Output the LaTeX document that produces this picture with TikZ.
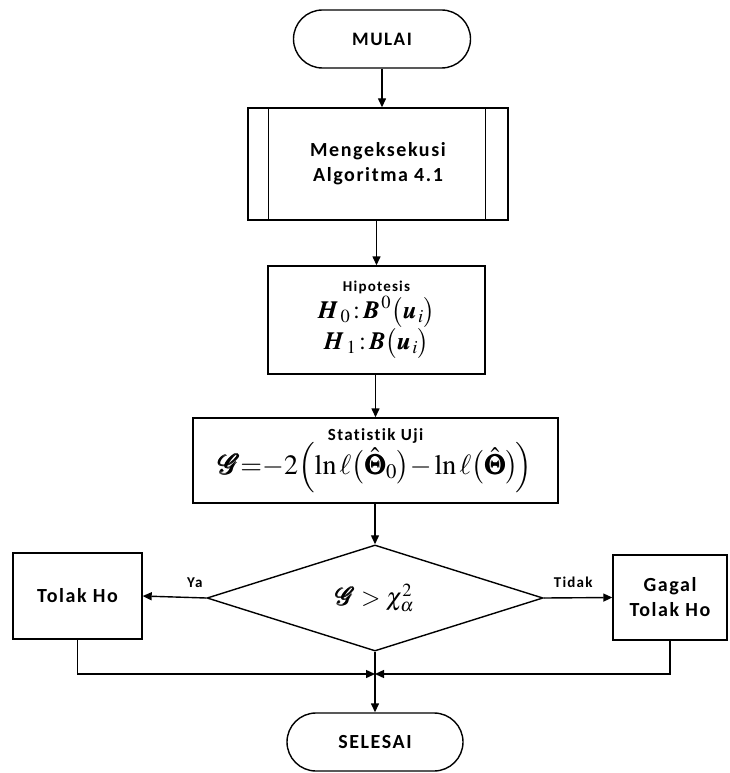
\documentclass[tikz,border=0pt]{standalone}
\usepackage{mathptmx}
\usepackage{amsmath}
\usepackage{bm}
\usepackage[no-math]{fontspec}
\setmainfont{Carlito}
\newfontfamily\lbl{Carlito}[LetterSpace=8, Ligatures=NoCommon]
\usetikzlibrary{arrows.meta, shapes.geometric, shapes.misc}

\newcommand{\statG}{\pmb{\mathcal{G}}}

\begin{document}
\begin{tikzpicture}[x=1pt, y=-1pt,
    font=\lbl\bfseries\fontsize{20}{25}\selectfont,
    garis/.style={line width=1.4pt},
    terminal/.style={rounded rectangle, draw, garis, minimum width=177pt, minimum height=58pt, inner sep=0pt},
    proses/.style={rectangle, draw, garis, inner sep=0pt, align=center},
    keputusan/.style={diamond, draw, garis, minimum width=336pt, minimum height=96pt, inner sep=0pt},
    panah/.style={garis, -{Triangle[length=9pt, width=8pt]}},
    ket/.style={font=\lbl\bfseries\fontsize{15}{17}\selectfont, above=6pt}]
    \useasboundingbox (0,0) rectangle (730,773);

    \node[terminal] (mulai) at (382,39) {\fontsize{19}{20}\selectfont MULAI};
    \node[proses, minimum width=260pt, minimum height=112pt] (algo) at (378,164) {Mengeksekusi\\Algoritma 4.1};
    \draw[garis] ([xshift=21pt]algo.north west) -- ([xshift=21pt]algo.south west);
    \draw[garis] ([xshift=-23pt]algo.north east) -- ([xshift=-23pt]algo.south east);
    \node[proses, minimum width=217pt, minimum height=108pt] (hipo) at (376.5,320)
        {{\fontsize{15}{18}\selectfont Hipotesis}\\[2pt]
         \fontsize{25}{30}\selectfont
         $\bm{H}_{\,0}\,{:}\,\bm{B}^{\,0}\big(\bm{u}_{\,i}\big)$\\[0pt]
         \fontsize{25}{30}\selectfont
         $\bm{H}_{\,1}\,{:}\,\bm{B}\big(\bm{u}_{\,i}\big)$};
    \node[proses, minimum width=365pt, minimum height=85pt] (uji) at (375.5,460.5)
        {{\fontsize{17}{20}\selectfont Statistik Uji}\\[-2pt]
         \fontsize{28}{32}\selectfont
         $\statG{=}{-}2\Big(\!\ln\ell\big(\hat{\bm{\Theta}}_{0}\big){-}\ln\ell\big(\hat{\bm{\Theta}}\big)\!\Big)$};
    \node[keputusan] (cek) at (375,598) {\fontsize{25}{28}\selectfont $\statG>\chi^{2}_{\alpha}$};
    \node[proses, minimum width=129pt, minimum height=86pt] (tolak) at (77.5,596) {Tolak Ho};
    \node[proses, minimum width=114pt, minimum height=85pt] (gagal) at (670,597.5) {Gagal\\Tolak Ho};
    \node[terminal, minimum width=176pt] (selesai) at (375,742) {SELESAI};
    \coordinate (gabung) at (375,674);

    \draw[panah] (mulai.south) -- (mulai.south |- algo.north);
    \draw[panah] (hipo.north |- algo.south) -- (hipo.north);
    \draw[panah] (uji.north |- hipo.south) -- (uji.north);
    \draw[panah] (cek.north |- uji.south) -- (cek.north);
    \draw[panah] (cek.west) -- node[ket, pos=0.18] {Ya} (tolak.east);
    \draw[panah] (cek.east) -- node[ket, pos=0.43] {Tidak} (gagal.west);
    \draw[panah] (tolak.south) |- (gabung);
    \draw[panah] (gagal.south) |- (gabung);
    \draw[panah] (cek.south) -- (selesai.north);
\end{tikzpicture}
\end{document}
